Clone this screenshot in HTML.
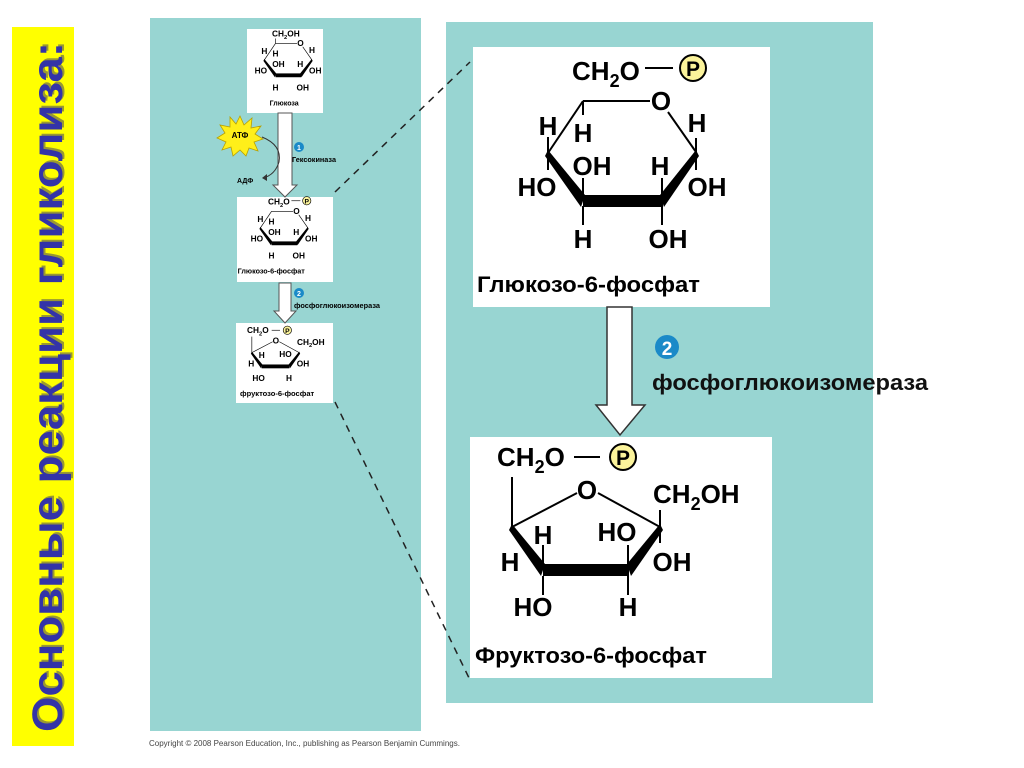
<!DOCTYPE html>
<html><head><meta charset="utf-8"><style>
html,body{margin:0;padding:0;background:#fff;}
svg{display:block;}
text{font-family:"Liberation Sans",sans-serif;font-weight:bold;}
</style></head><body>
<svg width="1024" height="768" viewBox="0 0 1024 768" xmlns="http://www.w3.org/2000/svg">
<!-- banner -->
<rect x="12" y="27" width="62" height="719" fill="#ffff00"/>
<text transform="translate(62,732) rotate(-90)" font-size="43" fill="#555" textLength="690" lengthAdjust="spacingAndGlyphs" x="2" y="2" opacity="0.6">Основные реакции гликолиза:</text>
<text transform="translate(62,732) rotate(-90)" font-size="43" fill="#3333a8" textLength="690" lengthAdjust="spacingAndGlyphs">Основные реакции гликолиза:</text>

<!-- panels -->
<rect x="150" y="18" width="271" height="713" fill="#98d5d2"/>
<rect x="446" y="22" width="427" height="681" fill="#98d5d2"/>
<text x="149" y="746" font-size="8" font-weight="normal" style="font-weight:normal" fill="#444">Copyright © 2008 Pearson Education, Inc., publishing as Pearson Benjamin Cummings.</text>

<!-- dashed lines -->
<line x1="335" y1="192" x2="470" y2="62" stroke="#222" stroke-width="1.5" stroke-dasharray="7,6"/>
<line x1="335" y1="402" x2="470" y2="680" stroke="#222" stroke-width="1.5" stroke-dasharray="7,6"/>

<!-- big boxes -->
<rect x="473" y="47" width="297" height="260" fill="#fff"/>
<rect x="470" y="437" width="302" height="241" fill="#fff"/>

<!-- big arrow -->
<polygon points="607,307 632,307 632,405 645,405 620,435 596,405 607,405" fill="#fff" stroke="#333" stroke-width="1.5"/>
<circle cx="667" cy="347" r="12" fill="#1a8ac8"/>
<text x="667" y="355" font-size="19" fill="#fff" text-anchor="middle">2</text>
<text x="652" y="390" font-size="22" fill="#111" textLength="276" lengthAdjust="spacingAndGlyphs">фосфоглюкоизомераза</text>

<!-- BIG GLUCOSE-6-P -->
<g id="g6p">
<text x="572" y="80" font-size="26">CH<tspan font-size="18" dy="7">2</tspan><tspan dy="-7">O</tspan></text>
<line x1="645" y1="68" x2="673" y2="68" stroke="#000" stroke-width="2"/>
<circle cx="693" cy="68" r="13" fill="#fbf39b" stroke="#000" stroke-width="2"/>
<text x="693" y="76" font-size="21" text-anchor="middle">P</text>
<line x1="583" y1="101" x2="650" y2="101" stroke="#000" stroke-width="2"/>
<text x="661" y="110" font-size="26" text-anchor="middle">O</text>
<line x1="668" y1="112" x2="696" y2="152" stroke="#000" stroke-width="2"/>
<text x="697" y="132" font-size="26" text-anchor="middle">H</text>
<line x1="696" y1="138" x2="696" y2="170" stroke="#000" stroke-width="2"/>
<polygon points="696,150 699,156 664,207 660,195" fill="#000"/>
<rect x="583" y="195" width="80" height="12" fill="#000"/>
<polygon points="548,150 545,156 581,207 585,195" fill="#000"/>
<line x1="548" y1="153" x2="583" y2="101" stroke="#000" stroke-width="2"/>
<line x1="548" y1="137" x2="548" y2="170" stroke="#000" stroke-width="2"/>
<line x1="583" y1="101" x2="583" y2="115" stroke="#000" stroke-width="2"/>
<text x="548" y="135" font-size="26" text-anchor="middle">H</text>
<text x="583" y="142" font-size="26" text-anchor="middle">H</text>
<text x="537" y="196" font-size="26" text-anchor="middle">HO</text>
<line x1="583" y1="200" x2="583" y2="178" stroke="#000" stroke-width="2"/>
<text x="592" y="175" font-size="26" text-anchor="middle">OH</text>
<line x1="662" y1="200" x2="662" y2="178" stroke="#000" stroke-width="2"/>
<text x="660" y="175" font-size="26" text-anchor="middle">H</text>
<text x="707" y="196" font-size="26" text-anchor="middle">OH</text>
<line x1="583" y1="206" x2="583" y2="225" stroke="#000" stroke-width="2"/>
<line x1="662" y1="206" x2="662" y2="225" stroke="#000" stroke-width="2"/>
<text x="583" y="248" font-size="26" text-anchor="middle">H</text>
<text x="668" y="248" font-size="26" text-anchor="middle">OH</text>
<text x="477" y="292" font-size="22" textLength="223" lengthAdjust="spacingAndGlyphs">Глюкозо-6-фосфат</text>
</g>

<!-- BIG FRUCTOSE-6-P -->
<text x="497" y="466" font-size="26">CH<tspan font-size="18" dy="7">2</tspan><tspan dy="-7">O</tspan></text>
<line x1="574" y1="457" x2="600" y2="457" stroke="#000" stroke-width="2"/>
<circle cx="623" cy="457" r="13" fill="#fbf39b" stroke="#000" stroke-width="2"/>
<text x="623" y="465" font-size="21" text-anchor="middle">P</text>
<line x1="512" y1="477" x2="512" y2="527" stroke="#000" stroke-width="2"/>
<text x="587" y="499" font-size="26" text-anchor="middle">O</text>
<line x1="512" y1="527" x2="577" y2="493" stroke="#000" stroke-width="2"/>
<line x1="598" y1="493" x2="660" y2="527" stroke="#000" stroke-width="2"/>
<line x1="660" y1="510" x2="660" y2="543" stroke="#000" stroke-width="2"/>
<text x="653" y="503" font-size="26">CH<tspan font-size="18" dy="7">2</tspan><tspan dy="-7">OH</tspan></text>
<polygon points="512,524 509,530 541,576 545,564" fill="#000"/>
<rect x="543" y="564" width="86" height="12" fill="#000"/>
<polygon points="660,524 663,530 631,576 627,564" fill="#000"/>
<line x1="543" y1="545" x2="543" y2="570" stroke="#000" stroke-width="2"/>
<text x="543" y="544" font-size="26" text-anchor="middle">H</text>
<line x1="628" y1="545" x2="628" y2="570" stroke="#000" stroke-width="2"/>
<text x="617" y="541" font-size="26" text-anchor="middle">HO</text>
<text x="672" y="571" font-size="26" text-anchor="middle">OH</text>
<text x="510" y="571" font-size="26" text-anchor="middle">H</text>
<line x1="543" y1="576" x2="543" y2="595" stroke="#000" stroke-width="2"/>
<line x1="628" y1="576" x2="628" y2="595" stroke="#000" stroke-width="2"/>
<text x="533" y="616" font-size="26" text-anchor="middle">HO</text>
<text x="628" y="616" font-size="26" text-anchor="middle">H</text>
<text x="475" y="663" font-size="22" textLength="232" lengthAdjust="spacingAndGlyphs">Фруктозо-6-фосфат</text>

<!-- SMALL LEFT -->
<rect x="247" y="29" width="76" height="84" fill="#fff"/>
<rect x="237" y="197" width="96" height="85" fill="#fff"/>
<rect x="236" y="323" width="97" height="80" fill="#fff"/>
<polygon points="278,113 292,113 292,185 297,185 285,197 273,185 278,185" fill="#fff" stroke="#555" stroke-width="1"/>
<polygon points="279,283 291,283 291,311 296,311 285,323 274,311 279,311" fill="#fff" stroke="#555" stroke-width="1"/>

<!-- small glucose -->
<g transform="translate(89,11) scale(0.32)">
<text x="572" y="80" font-size="26">CH<tspan font-size="18" dy="7">2</tspan><tspan dy="-7">OH</tspan></text>
<line x1="583" y1="86" x2="583" y2="101" stroke="#000" stroke-width="2"/>
<line x1="583" y1="101" x2="650" y2="101" stroke="#000" stroke-width="2"/>
<text x="661" y="110" font-size="26" text-anchor="middle">O</text>
<line x1="668" y1="112" x2="696" y2="152" stroke="#000" stroke-width="2"/>
<text x="697" y="132" font-size="26" text-anchor="middle">H</text>
<polygon points="696,150 699,156 664,207 660,195" fill="#000"/>
<rect x="583" y="195" width="80" height="12" fill="#000"/>
<polygon points="548,150 545,156 581,207 585,195" fill="#000"/>
<line x1="548" y1="153" x2="583" y2="101" stroke="#000" stroke-width="2"/>
<text x="548" y="135" font-size="26" text-anchor="middle">H</text>
<text x="583" y="142" font-size="26" text-anchor="middle">H</text>
<text x="537" y="196" font-size="26" text-anchor="middle">HO</text>
<text x="592" y="175" font-size="26" text-anchor="middle">OH</text>
<text x="660" y="175" font-size="26" text-anchor="middle">H</text>
<text x="707" y="196" font-size="26" text-anchor="middle">OH</text>
<text x="583" y="248" font-size="26" text-anchor="middle">H</text>
<text x="668" y="248" font-size="26" text-anchor="middle">OH</text>
<text x="610" y="295" font-size="22" text-anchor="middle">Глюкоза</text>
</g>

<!-- small glucose-6-P -->
<g transform="translate(85,179) scale(0.32)">
<text x="572" y="80" font-size="26">CH<tspan font-size="18" dy="7">2</tspan><tspan dy="-7">O</tspan></text>
<line x1="645" y1="68" x2="673" y2="68" stroke="#000" stroke-width="2"/>
<circle cx="693" cy="68" r="13" fill="#fbf39b" stroke="#000" stroke-width="2"/>
<text x="693" y="76" font-size="21" text-anchor="middle">P</text>
<line x1="583" y1="101" x2="650" y2="101" stroke="#000" stroke-width="2"/>
<text x="661" y="110" font-size="26" text-anchor="middle">O</text>
<line x1="668" y1="112" x2="696" y2="152" stroke="#000" stroke-width="2"/>
<text x="697" y="132" font-size="26" text-anchor="middle">H</text>
<polygon points="696,150 699,156 664,207 660,195" fill="#000"/>
<rect x="583" y="195" width="80" height="12" fill="#000"/>
<polygon points="548,150 545,156 581,207 585,195" fill="#000"/>
<line x1="548" y1="153" x2="583" y2="101" stroke="#000" stroke-width="2"/>
<text x="548" y="135" font-size="26" text-anchor="middle">H</text>
<text x="583" y="142" font-size="26" text-anchor="middle">H</text>
<text x="537" y="196" font-size="26" text-anchor="middle">HO</text>
<text x="592" y="175" font-size="26" text-anchor="middle">OH</text>
<text x="660" y="175" font-size="26" text-anchor="middle">H</text>
<text x="707" y="196" font-size="26" text-anchor="middle">OH</text>
<text x="583" y="248" font-size="26" text-anchor="middle">H</text>
<text x="668" y="248" font-size="26" text-anchor="middle">OH</text>
<text x="477" y="295" font-size="22" textLength="210" lengthAdjust="spacingAndGlyphs">Глюкозо-6-фосфат</text>
</g>

<!-- small fructose -->
<g transform="translate(88,184) scale(0.32)">
<text x="497" y="466" font-size="26">CH<tspan font-size="18" dy="7">2</tspan><tspan dy="-7">O</tspan></text>
<line x1="574" y1="457" x2="600" y2="457" stroke="#000" stroke-width="2"/>
<circle cx="623" cy="457" r="13" fill="#fbf39b" stroke="#000" stroke-width="2"/>
<text x="623" y="465" font-size="21" text-anchor="middle">P</text>
<line x1="512" y1="477" x2="512" y2="527" stroke="#000" stroke-width="2"/>
<text x="587" y="499" font-size="26" text-anchor="middle">O</text>
<line x1="512" y1="527" x2="577" y2="493" stroke="#000" stroke-width="2"/>
<line x1="598" y1="493" x2="660" y2="527" stroke="#000" stroke-width="2"/>
<text x="653" y="503" font-size="26">CH<tspan font-size="18" dy="7">2</tspan><tspan dy="-7">OH</tspan></text>
<polygon points="512,524 509,530 541,576 545,564" fill="#000"/>
<rect x="543" y="564" width="86" height="12" fill="#000"/>
<polygon points="660,524 663,530 631,576 627,564" fill="#000"/>
<text x="543" y="544" font-size="26" text-anchor="middle">H</text>
<text x="617" y="541" font-size="26" text-anchor="middle">HO</text>
<text x="672" y="571" font-size="26" text-anchor="middle">OH</text>
<text x="510" y="571" font-size="26" text-anchor="middle">H</text>
<text x="533" y="616" font-size="26" text-anchor="middle">HO</text>
<text x="628" y="616" font-size="26" text-anchor="middle">H</text>
<text x="475" y="663" font-size="22" textLength="232" lengthAdjust="spacingAndGlyphs">фруктозо-6-фосфат</text>
</g>

<!-- ATP star -->
<polygon points="240,116 244,125 252,118 251,128 261,126 255,134 263,139 254,142 258,151 249,148 246,156 240,150 233,156 231,147 222,150 226,142 217,138 225,133 220,125 230,127 230,117 236,124" fill="#ffef1a" stroke="#b8a000" stroke-width="0.8"/>
<text x="240" y="138" font-size="8" text-anchor="middle">АТФ</text>
<path d="M262,137 Q282,145 279,162 Q275,175 263,178" fill="none" stroke="#333" stroke-width="1"/>
<polygon points="262,178 267,174 267,181" fill="#333"/>
<text x="237" y="183" font-size="7">АДФ</text>
<circle cx="299" cy="147" r="5" fill="#1a8ac8"/>
<text x="299" y="150" font-size="7" fill="#fff" text-anchor="middle">1</text>
<text x="292" y="162" font-size="7" textLength="44" lengthAdjust="spacingAndGlyphs">Гексокиназа</text>
<circle cx="299" cy="293" r="5" fill="#1a8ac8"/>
<text x="299" y="296" font-size="7" fill="#fff" text-anchor="middle">2</text>
<text x="294" y="308" font-size="7" textLength="86" lengthAdjust="spacingAndGlyphs">фосфоглюкоизомераза</text>
</svg>
</body></html>
